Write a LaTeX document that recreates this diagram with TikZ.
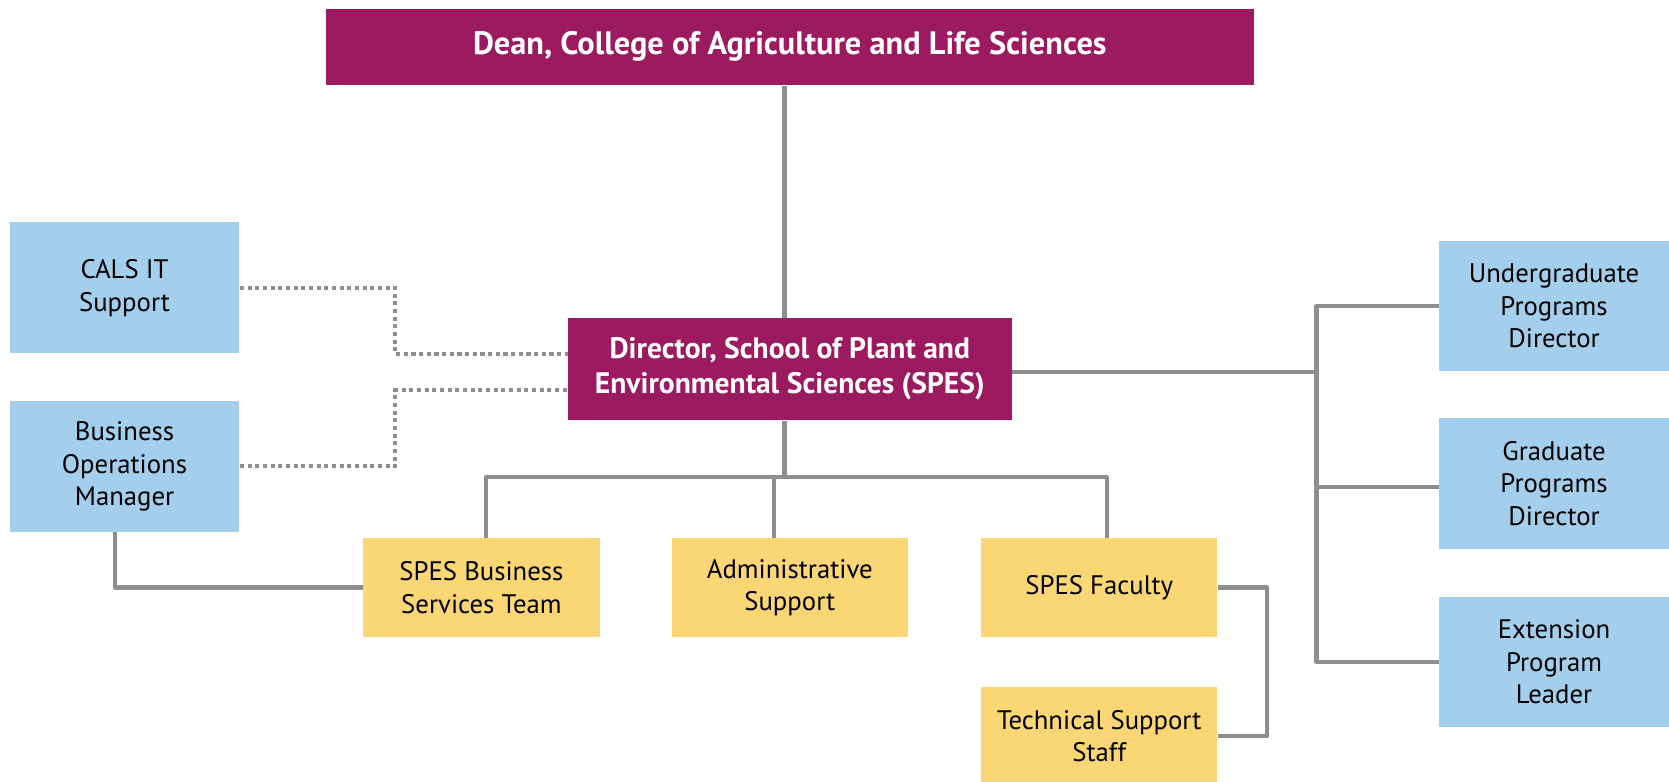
\documentclass[tikz,border=0pt]{standalone}
\usepackage{fontspec}
\setmainfont{PT Sans}
\usetikzlibrary{positioning,calc}

\definecolor{calsmaroon}{HTML}{9C1A5F}
\definecolor{calsblue}{HTML}{A3CFEC}
\definecolor{calsyellow}{HTML}{FAD674}
\definecolor{linegray}{HTML}{8E8E8E}

\begin{document}
\begin{tikzpicture}[
    headbox/.style={rectangle, fill=calsmaroon, text=white, align=center, inner sep=0pt,
        font=\fontsize{15.8}{18.6}\selectfont\bfseries},
    bluebox/.style={rectangle, fill=calsblue, align=center, inner sep=0pt,
        minimum width=4.32cm, minimum height=2.46cm, font=\fontsize{14.3}{17.4}\selectfont},
    yellowbox/.style={rectangle, fill=calsyellow, align=center, inner sep=0pt,
        minimum width=4.44cm, minimum height=1.86cm, font=\fontsize{14.3}{17.4}\selectfont},
    conn/.style={draw=linegray, line width=2.2pt, line join=round},
    dotconn/.style={draw=linegray, line width=2.1pt, dash pattern=on 2.2pt off 1.9pt}
]
        \useasboundingbox (0,0) rectangle (31.36,-14.68);

        %-----Leadership-----

        % Dean
        \node [headbox, minimum width=17.44cm, minimum height=1.44cm,
            font=\fontsize{17.3}{20}\selectfont\bfseries] (dean) at (14.84,-0.88) {%
            Dean, College of Agriculture and Life Sciences};

        % Director
        \node [headbox, below=4.36cm of dean, minimum width=8.34cm, minimum height=1.92cm] (director) {%
            Director, School of Plant and \\
            Environmental Sciences (SPES)};

        %-----Staff-----

        % Administrative Support
        \node [yellowbox, below=2.2cm of director] (admin) {Administrative \\ Support};

        % SPES Business Services Team
        \node [yellowbox, left=1.34cm of admin] (bizteam) {SPES Business \\ Services Team};

        % SPES Faculty
        \node [yellowbox, right=1.36cm of admin] (faculty) {SPES Faculty};

        % Technical Support Staff
        \node [yellowbox, below=0.92cm of faculty] (tech) {Technical Support \\ Staff};

        %-----Support Units-----

        % CALS IT Support
        \node [bluebox] (calsit) at (2.34,-5.41) {CALS IT \\ Support};

        % Business Operations Manager
        \node [bluebox, below=0.88cm of calsit] (bizops) {Business \\ Operations \\ Manager};

        %-----Program Leads-----

        % Undergraduate Programs Director
        \node [bluebox] (undergrad) at (29.2,-5.75) {Undergraduate \\ Programs \\ Director};

        % Graduate Programs Director
        \node [bluebox, below=0.86cm of undergrad] (graduate) {Graduate \\ Programs \\ Director};

        % Extension Program Leader
        \node [bluebox, below=0.88cm of graduate] (extension) {Extension \\ Program \\ Leader};

        %-----Reporting Lines-----

        % Dean to Director
        \draw[conn] ([xshift=-0.1cm]dean.south) -- ([xshift=-0.1cm]dean.south |- director.north);

        % Director to staff row
        \draw[conn] ([xshift=-0.1cm]director.south) -- ++(0,-1.06) coordinate (bus);
        \draw[conn] ([xshift=0.08cm]bizteam.north) |- (bus) -| ([xshift=0.14cm]faculty.north);
        \draw[conn] ([xshift=-0.3cm]admin.north) -- ([xshift=-0.3cm]admin.north |- bus);

        % Director to program leads
        \draw[conn] ([yshift=-0.06cm]director.east) -- ++(5.72,0) coordinate (rbus);
        \draw[conn] (undergrad.west) -| (rbus) |- (extension.west);
        \draw[conn] ([yshift=-0.07cm]graduate.west) -- ([yshift=-0.07cm]graduate.west -| rbus);

        % Business Operations Manager to Business Services Team
        \draw[conn] ([xshift=-0.18cm]bizops.south) |- (bizteam.west);

        % Faculty to Technical Support Staff
        \draw[conn] (faculty.east) -- ++(0.92,0) |- (tech.east);

        % Dotted support lines
        \draw[dotconn] (calsit.east) -- ++(2.92,0) |- ([yshift=0.28cm]director.west);
        \draw[dotconn] (bizops.east) -- ++(2.92,0) |- ([yshift=-0.4cm]director.west);

    \end{tikzpicture}
\end{document}
